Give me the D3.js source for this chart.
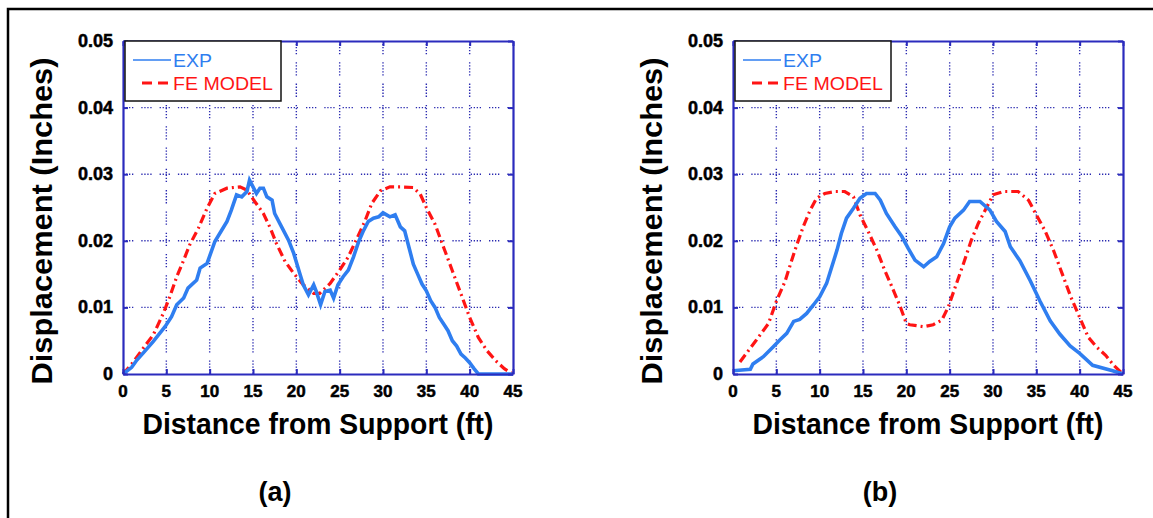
<!DOCTYPE html>
<html>
<head>
<meta charset="utf-8">
<script src="https://cdn.jsdelivr.net/npm/d3@7"></script>
<style>
  body { margin: 0; background: #fff; }
  text { font-family: "Liberation Sans", Arial, sans-serif; }
</style>
</head>
<body>
<script>
// datos: [distancia (ft), desplazamiento (in)]
var xTicks = [0, 5, 10, 15, 20, 25, 30, 35, 40, 45]
var yTicks = [0, 0.01, 0.02, 0.03, 0.04, 0.05]
var yTickLabels = ["0", "0.01", "0.02", "0.03", "0.04", "0.05"]
var seriesNames = ["EXP", "FE MODEL"]
var panelLabels = ["(a)", "(b)"]

var aExp = [[0,0],[1,0.0010],[1.6,0.0021],[2.5,0.0034],[3.5,0.0049],[4.3,0.0062],[4.85,0.0071],[5.6,0.0086],[6.2,0.0104],[7.0,0.0114],
  [7.5,0.0129],[8.5,0.0141],[8.9,0.0159],[9.7,0.0166],[10.6,0.0199],[11.3,0.0214],[12.0,0.0229],[12.5,0.0246],[13.1,0.0269],[13.7,0.0266],
  [14.3,0.0274],[14.6,0.0291],[15.0,0.0281],[15.4,0.0271],[15.8,0.0279],[16.2,0.0279],[16.6,0.0266],[17.2,0.0261],[17.5,0.0241],[18.3,0.0221],
  [19.1,0.0201],[19.7,0.0181],[20.4,0.0151],[20.8,0.0134],[21.4,0.0119],[22.0,0.0134],[22.3,0.0124],[22.8,0.0104],[23.3,0.0124],[23.9,0.0126],
  [24.3,0.0114],[24.8,0.0134],[25.4,0.0146],[26.0,0.0156],[26.6,0.0176],[27.2,0.0199],[27.7,0.0214],[28.3,0.0229],[28.9,0.0234],[29.5,0.0236],
  [30.0,0.0242],[30.8,0.0236],[31.4,0.0239],[32.0,0.0221],[32.5,0.0215],[33.0,0.0190],[33.5,0.0165],[34.0,0.0150],[34.5,0.0135],[35.0,0.0125],
  [35.5,0.0110],[36.0,0.0100],[36.5,0.0085],[37.0,0.0075],[37.5,0.0065],[38.0,0.0050],[38.5,0.0042],[39.0,0.0030],[39.5,0.0024],[40.0,0.0017],
  [40.5,0.0008],[41.0,0],[45,0]]

var aFe = [[0,0],[1,0.0015],[2.3,0.0038],[3.5,0.0059],[4.65,0.0091],[5.4,0.0116],[6.2,0.0146],[7.0,0.0171],[7.7,0.0194],[8.7,0.0219],
  [9.7,0.0249],[10.6,0.0271],[12.0,0.0279],[13.5,0.0281],[14.3,0.0276],[15.2,0.0259],[16.2,0.0241],[17.0,0.0219],[17.7,0.0196],[18.7,0.0169],
  [19.7,0.0151],[20.8,0.0134],[22.0,0.0121],[22.7,0.0121],[23.9,0.0136],[25.0,0.0156],[26.0,0.0176],[26.9,0.0201],[27.9,0.0229],[28.7,0.0256],
  [29.7,0.0275],[30.8,0.0281],[32.0,0.0281],[33.5,0.0280],[34.3,0.0270],[35,0.0250],[36,0.0225],[37,0.0190],[38,0.0155],[39,0.0120],
  [40,0.0085],[41,0.0055],[42,0.0035],[43,0.0020],[44,0.0008],[45,0]]

var bExp = [[0,0.0005],[2,0.0007],[2.3,0.0015],[3.5,0.0026],[4.65,0.0041],[5.4,0.0051],[6.2,0.0061],[7.0,0.0079],[7.7,0.0082],[8.5,0.0091],
  [9.3,0.0104],[10.0,0.0116],[10.8,0.0136],[11.4,0.0161],[12.0,0.0186],[12.5,0.0211],[13.1,0.0234],[13.9,0.0249],[14.65,0.0264],[15.4,0.0271],
  [16.4,0.0271],[17.0,0.0261],[17.7,0.0241],[18.7,0.0221],[19.5,0.0206],[20.2,0.0189],[21.0,0.0171],[22.0,0.0161],[22.7,0.0169],[23.5,0.0176],
  [24.3,0.0196],[25.0,0.0221],[25.6,0.0234],[26.6,0.0246],[27.3,0.0259],[28.5,0.0259],[29.65,0.0246],[30.4,0.0229],[31.4,0.0214],[32.0,0.0191],
  [33.1,0.0170],[34.3,0.0140],[35.4,0.0110],[36.6,0.0080],[37.7,0.0060],[38.9,0.0042],[40,0.0031],[41.5,0.0013],[43.8,0.0005],[45,0]]

var bFe = [[0.8,0.0018],[2.7,0.0051],[4.1,0.0076],[5.0,0.0109],[6.0,0.0139],[7.15,0.0186],[8.1,0.0221],[8.9,0.0246],[9.65,0.0264],[10.6,0.0271],
  [11.8,0.0274],[12.9,0.0274],[13.9,0.0266],[14.65,0.0239],[15.6,0.0214],[16.6,0.0186],[17.5,0.0156],[18.5,0.0126],[19.3,0.0101],[20.0,0.0076],
  [20.4,0.0074],[22.0,0.0071],[23.1,0.0074],[24.1,0.0081],[24.85,0.0101],[25.6,0.0129],[26.6,0.0166],[27.5,0.0201],[28.3,0.0226],[29.3,0.0251],
  [30.0,0.0269],[31.2,0.0274],[32.9,0.0274],[34.1,0.0261],[35,0.0239],[36,0.0215],[37,0.0185],[38,0.0150],[39,0.0115],[40,0.0085],
  [41,0.0055],[42,0.0040],[43,0.0028],[44,0.0012],[45,0]]

// parametros generales
var W = 1153, H = 518,
    plotW = 390, plotH = 333, plotTop = 41,
    panelLeft = [123, 733],
    labelCenter = [275, 880],
    axisColor = "#2b2bbd",
    gridColor = "#2a2ab0",
    expColor = "#2f7ef0",
    feColor = "#ff1414"

var svg = d3.select("body").append("svg")
  .attr("width", W)
  .attr("height", H)

// marco exterior
svg.append("rect")
  .attr("x", 8).attr("y", 9)
  .attr("width", W + 20).attr("height", H + 20)
  .attr("fill", "none")
  .attr("stroke", "#000")
  .attr("stroke-width", 2.5)

var x = d3.scaleLinear().domain([0, 45]).range([0, plotW])
var y = d3.scaleLinear().domain([0, 0.05]).range([plotH, 0])

var line = d3.line()
  .x(function(d) { return x(d[0]) })
  .y(function(d) { return y(d[1]) })

function drawPanel(i, exp, fe) {
  var g = svg.append("g")
    .attr("transform", "translate(" + panelLeft[i] + "," + plotTop + ")")

  // rejilla punteada
  g.append("g").selectAll("line")
    .data(xTicks.slice(1, -1))
    .enter().append("line")
    .attr("x1", function(d) { return x(d) }).attr("x2", function(d) { return x(d) })
    .attr("y1", 0).attr("y2", plotH)
    .attr("stroke", gridColor).attr("stroke-width", 1.4)
    .attr("stroke-dasharray", "1.3,1.7,1.3,1.7,1.3,1.7,1.3,1.7,1.3,8")

  g.append("g").selectAll("line")
    .data(yTicks.slice(1, -1))
    .enter().append("line")
    .attr("x1", 0).attr("x2", plotW)
    .attr("y1", function(d) { return y(d) }).attr("y2", function(d) { return y(d) })
    .attr("stroke", gridColor).attr("stroke-width", 1.4)
    .attr("stroke-dasharray", "1.3,1.7,1.3,1.7,1.3,1.7,1.3,8")

  // curvas
  g.append("path")
    .datum(fe)
    .attr("fill", "none")
    .attr("stroke", feColor)
    .attr("stroke-width", 3.2)
    .attr("stroke-dasharray", "9,4,2,4")
    .attr("d", line)

  g.append("path")
    .datum(exp)
    .attr("fill", "none")
    .attr("stroke", expColor)
    .attr("stroke-width", 3.6)
    .attr("stroke-linejoin", "miter")
    .attr("d", line)

  // ejes con marcas hacia dentro
  var ax = [
    { axis: d3.axisBottom(x), t: "translate(0," + plotH + ")" },
    { axis: d3.axisTop(x), t: "translate(0,0)" },
    { axis: d3.axisLeft(y), t: "translate(0,0)" },
    { axis: d3.axisRight(y), t: "translate(" + plotW + ",0)" }
  ]
  ax.forEach(function(a, k) {
    var isX = k < 2
    var sel = g.append("g")
      .attr("transform", a.t)
      .call(a.axis.tickValues(isX ? xTicks : yTicks).tickSizeInner(-5).tickSizeOuter(0).tickFormat(""))
    sel.select(".domain").attr("stroke", axisColor).attr("stroke-width", 2.2)
    sel.selectAll(".tick line").attr("stroke", axisColor).attr("stroke-width", 2)
  })

  // etiquetas de las marcas
  g.append("g").selectAll("text")
    .data(xTicks)
    .enter().append("text")
    .attr("x", function(d) { return x(d) })
    .attr("y", plotH + 23)
    .attr("text-anchor", "middle")
    .style("font-size", "17px").style("font-weight", "bold")
    .attr("stroke", "#000").attr("stroke-width", 0.5)
    .text(function(d) { return d })

  g.append("g").selectAll("text")
    .data(yTicks)
    .enter().append("text")
    .attr("x", -10)
    .attr("y", function(d) { return y(d) + 6 })
    .attr("text-anchor", "end")
    .style("font-size", "18px").style("font-weight", "bold")
    .attr("stroke", "#000").attr("stroke-width", 0.5)
    .text(function(d, j) { return yTickLabels[j] })

  // titulos de ejes
  g.append("text")
    .attr("x", plotW / 2)
    .attr("y", 393)
    .attr("text-anchor", "middle")
    .attr("textLength", 351).attr("lengthAdjust", "spacingAndGlyphs")
    .style("font-size", "29px").style("font-weight", "bold")
    .text("Distance from Support (ft)")

  g.append("text")
    .attr("transform", "translate(-71," + 180 + ") rotate(-90)")
    .attr("text-anchor", "middle")
    .attr("textLength", 327).attr("lengthAdjust", "spacingAndGlyphs")
    .style("font-size", "29px").style("font-weight", "bold")
    .text("Displacement (Inches)")

  // leyenda
  var leg = g.append("g").attr("transform", "translate(2,0)")
  leg.append("rect")
    .attr("x", 0).attr("y", 0).attr("width", 156).attr("height", 60)
    .attr("fill", "#fff").attr("stroke", "#111").attr("stroke-width", 1.5)
  leg.append("line")
    .attr("x1", 8).attr("x2", 46).attr("y1", 19).attr("y2", 19)
    .attr("stroke", expColor).attr("stroke-width", 1.5)
  leg.append("text")
    .attr("x", 48).attr("y", 26)
    .attr("textLength", 39).attr("lengthAdjust", "spacingAndGlyphs")
    .style("font-size", "18px").attr("fill", expColor)
    .text(seriesNames[0])
  leg.append("line")
    .attr("x1", 17).attr("x2", 46).attr("y1", 42).attr("y2", 42)
    .attr("stroke", feColor).attr("stroke-width", 3)
    .attr("stroke-dasharray", "10,6")
  leg.append("text")
    .attr("x", 48).attr("y", 49)
    .attr("textLength", 100).attr("lengthAdjust", "spacingAndGlyphs")
    .style("font-size", "18px").attr("fill", feColor)
    .text(seriesNames[1])

  // rotulo del panel
  svg.append("text")
    .attr("x", labelCenter[i])
    .attr("y", 501)
    .attr("text-anchor", "middle")
    .style("font-size", "27px").style("font-weight", "bold")
    .text(panelLabels[i])
}

drawPanel(0, aExp, aFe)
drawPanel(1, bExp, bFe)
</script>
</body>
</html>
